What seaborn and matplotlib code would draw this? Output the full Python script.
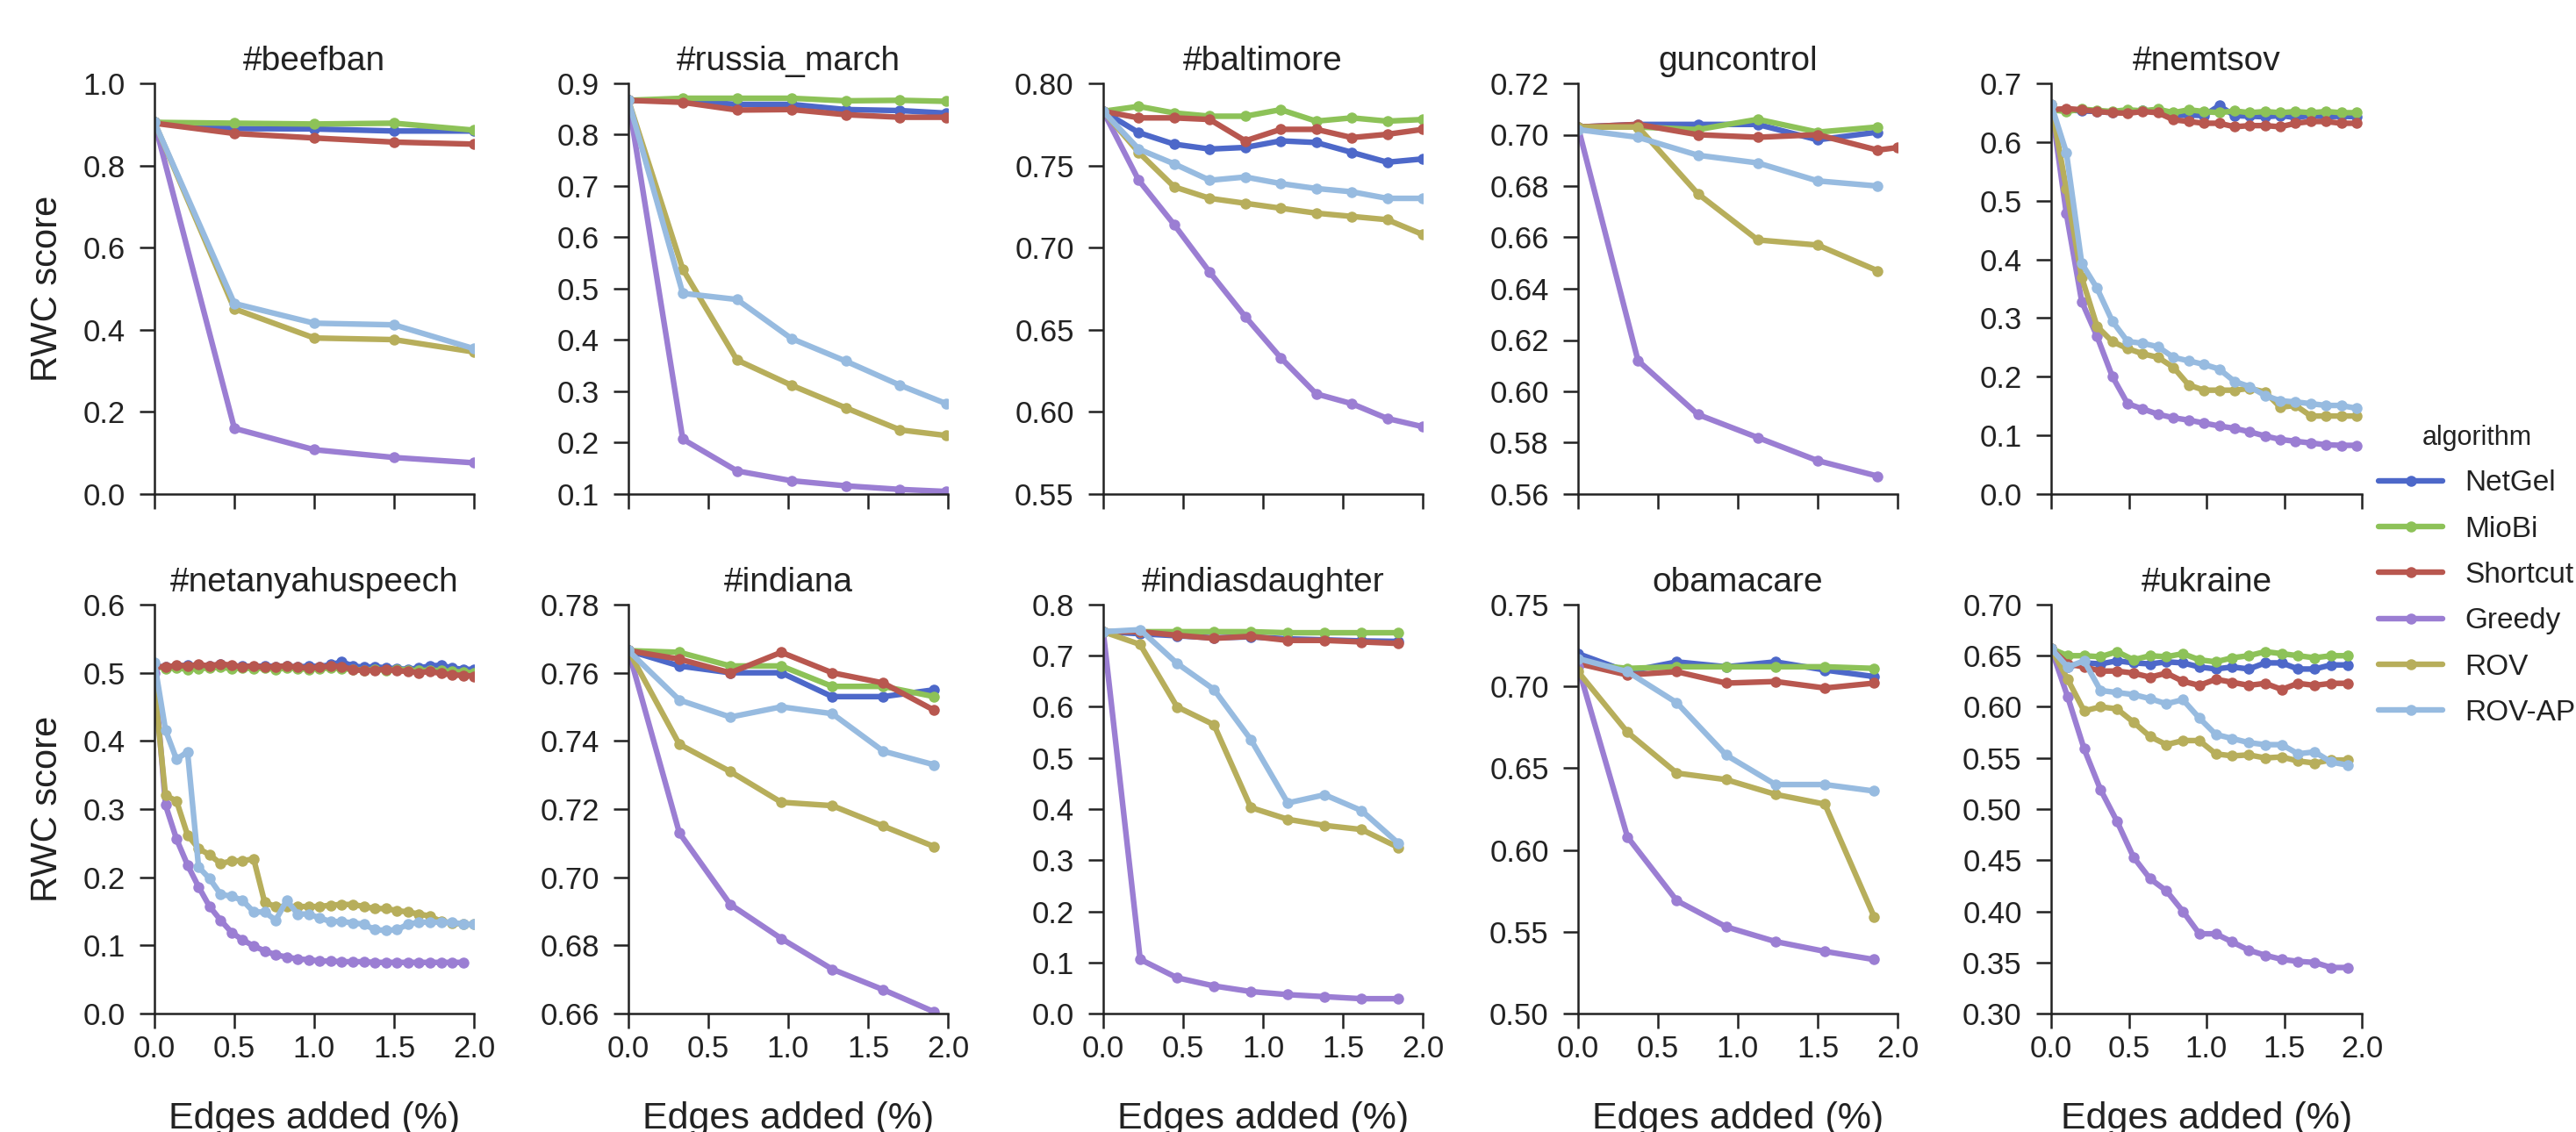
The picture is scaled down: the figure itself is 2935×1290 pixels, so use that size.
import numpy as np
import pandas as pd
import matplotlib
matplotlib.use("Agg")
import matplotlib.pyplot as plt
from matplotlib.lines import Line2D
import seaborn as sns

algorithms = ["NetGel", "MioBi", "Shortcut", "Greedy", "ROV", "ROV-AP"]
colors = ["#4d68c9", "#8dc258", "#b8574f", "#9b7ed3", "#b7ae5b", "#97bbe0"]

# ---- top row ----
beefban_x = [0, 0.5, 1.0, 1.5, 2.0]
beefban = {
    "NetGel":   [0.905, 0.890, 0.889, 0.884, 0.884],
    "MioBi":    [0.905, 0.903, 0.901, 0.903, 0.886],
    "Shortcut": [0.903, 0.878, 0.867, 0.857, 0.852],
    "Greedy":   [0.905, 0.160, 0.108, 0.089, 0.076],
    "ROV":      [0.905, 0.451, 0.380, 0.376, 0.346],
    "ROV-AP":   [0.905, 0.464, 0.416, 0.412, 0.354],
}

russia_x = [0, 0.34, 0.68, 1.02, 1.36, 1.70, 1.99]
russia = {
    "NetGel":   [0.867, 0.866, 0.859, 0.859, 0.849, 0.847, 0.842],
    "MioBi":    [0.867, 0.871, 0.871, 0.871, 0.866, 0.867, 0.865],
    "Shortcut": [0.867, 0.863, 0.848, 0.849, 0.839, 0.834, 0.834],
    "Greedy":   [0.867, 0.207, 0.145, 0.126, 0.116, 0.109, 0.105],
    "ROV":      [0.867, 0.538, 0.361, 0.312, 0.268, 0.225, 0.214],
    "ROV-AP":   [0.867, 0.491, 0.479, 0.403, 0.359, 0.312, 0.276],
}

baltimore_x = [0, 0.222, 0.444, 0.667, 0.889, 1.111, 1.333, 1.556, 1.778, 2.0]
baltimore = {
    "NetGel":   [0.783, 0.770, 0.763, 0.760, 0.761, 0.765, 0.764, 0.758, 0.752, 0.754],
    "MioBi":    [0.783, 0.786, 0.782, 0.780, 0.780, 0.784, 0.777, 0.779, 0.777, 0.778],
    "Shortcut": [0.783, 0.779, 0.779, 0.778, 0.765, 0.772, 0.772, 0.767, 0.769, 0.772],
    "Greedy":   [0.783, 0.741, 0.714, 0.685, 0.658, 0.633, 0.611, 0.605, 0.596, 0.591],
    "ROV":      [0.783, 0.758, 0.737, 0.730, 0.727, 0.724, 0.721, 0.719, 0.717, 0.708],
    "ROV-AP":   [0.783, 0.760, 0.751, 0.741, 0.743, 0.739, 0.736, 0.734, 0.730, 0.730],
}

guncontrol_x = [0, 0.375, 0.75, 1.125, 1.5, 1.875]
guncontrol_shortcut_x = [0, 0.375, 0.75, 1.125, 1.5, 1.875, 2.0]
guncontrol = {
    "NetGel":   [0.703, 0.704, 0.704, 0.704, 0.698, 0.701],
    "MioBi":    [0.703, 0.703, 0.702, 0.706, 0.701, 0.703],
    "Shortcut": [0.703, 0.704, 0.700, 0.699, 0.700, 0.694, 0.695],
    "Greedy":   [0.703, 0.612, 0.591, 0.582, 0.573, 0.567],
    "ROV":      [0.703, 0.703, 0.677, 0.659, 0.657, 0.647],
    "ROV-AP":   [0.702, 0.699, 0.692, 0.689, 0.682, 0.680],
}

nemtsov_x = [0, 0.098, 0.197, 0.295, 0.393, 0.492, 0.59, 0.688, 0.787, 0.885, 0.983,
             1.082, 1.18, 1.278, 1.377, 1.475, 1.573, 1.672, 1.77, 1.868, 1.966]
nemtsov = {
    "NetGel":   [0.655, 0.655, 0.653, 0.652, 0.650, 0.652, 0.653, 0.654, 0.645, 0.646, 0.645,
                 0.662, 0.645, 0.644, 0.643, 0.645, 0.642, 0.645, 0.643, 0.644, 0.643],
    "MioBi":    [0.655, 0.652, 0.656, 0.654, 0.652, 0.655, 0.653, 0.656, 0.650, 0.655, 0.652,
                 0.650, 0.653, 0.650, 0.652, 0.650, 0.652, 0.650, 0.652, 0.650, 0.650],
    "Shortcut": [0.655, 0.657, 0.655, 0.652, 0.650, 0.649, 0.652, 0.650, 0.638, 0.635, 0.632,
                 0.632, 0.626, 0.628, 0.628, 0.626, 0.632, 0.635, 0.635, 0.632, 0.632],
    "Greedy":   [0.664, 0.478, 0.328, 0.269, 0.201, 0.154, 0.145, 0.136, 0.130, 0.126, 0.121,
                 0.116, 0.112, 0.106, 0.099, 0.093, 0.090, 0.087, 0.084, 0.083, 0.083],
    "ROV":      [0.664, 0.520, 0.369, 0.286, 0.260, 0.248, 0.239, 0.233, 0.216, 0.186, 0.177,
                 0.177, 0.177, 0.180, 0.174, 0.148, 0.151, 0.133, 0.133, 0.133, 0.133],
    "ROV-AP":   [0.664, 0.582, 0.393, 0.351, 0.295, 0.260, 0.257, 0.251, 0.233, 0.227, 0.221,
                 0.213, 0.192, 0.183, 0.168, 0.159, 0.157, 0.154, 0.151, 0.151, 0.146],
}

# ---- bottom row ----
netanyahu_x = [0, 0.069, 0.138, 0.207, 0.276, 0.345, 0.414, 0.483, 0.552, 0.621, 0.69,
               0.759, 0.828, 0.897, 0.966, 1.035, 1.104, 1.173, 1.242, 1.311, 1.38,
               1.449, 1.518, 1.587, 1.656, 1.725, 1.794, 1.863, 1.932, 2.0]
netanyahu_greedy_x = netanyahu_x[:29]
netanyahu = {
    "NetGel":   [0.510, 0.508, 0.510, 0.511, 0.509, 0.510, 0.512, 0.508, 0.510, 0.509, 0.510,
                 0.509, 0.510, 0.508, 0.510, 0.509, 0.512, 0.516, 0.510, 0.508, 0.509,
                 0.507, 0.506, 0.505, 0.507, 0.510, 0.511, 0.507, 0.505, 0.505],
    "MioBi":    [0.510, 0.506, 0.507, 0.505, 0.506, 0.507, 0.508, 0.506, 0.507, 0.506, 0.507,
                 0.505, 0.507, 0.506, 0.505, 0.506, 0.507, 0.506, 0.505, 0.504, 0.505,
                 0.504, 0.505, 0.504, 0.503, 0.504, 0.503, 0.502, 0.501, 0.500],
    "Shortcut": [0.510, 0.508, 0.511, 0.510, 0.512, 0.510, 0.513, 0.511, 0.509, 0.510, 0.508,
                 0.509, 0.510, 0.508, 0.507, 0.508, 0.510, 0.509, 0.505, 0.503, 0.504,
                 0.505, 0.503, 0.502, 0.500, 0.502, 0.499, 0.497, 0.496, 0.495],
    "Greedy":   [0.500, 0.306, 0.256, 0.218, 0.186, 0.157, 0.137, 0.119, 0.108, 0.099, 0.092,
                 0.086, 0.083, 0.080, 0.079, 0.077, 0.077, 0.076, 0.076, 0.076, 0.075,
                 0.075, 0.075, 0.075, 0.075, 0.075, 0.075, 0.075, 0.075],
    "ROV":      [0.480, 0.320, 0.312, 0.262, 0.242, 0.233, 0.220, 0.224, 0.224, 0.227, 0.163,
                 0.157, 0.157, 0.157, 0.157, 0.157, 0.159, 0.160, 0.160, 0.157, 0.154,
                 0.154, 0.151, 0.149, 0.146, 0.143, 0.135, 0.133, 0.131, 0.131],
    "ROV-AP":   [0.515, 0.416, 0.373, 0.384, 0.215, 0.198, 0.175, 0.172, 0.166, 0.149, 0.149,
                 0.137, 0.166, 0.146, 0.146, 0.140, 0.135, 0.135, 0.133, 0.131, 0.123,
                 0.122, 0.123, 0.131, 0.134, 0.134, 0.134, 0.134, 0.131, 0.131],
}

indiana_x = [0, 0.319, 0.638, 0.957, 1.276, 1.595, 1.914]
indiana = {
    "NetGel":   [0.7665, 0.762, 0.760, 0.760, 0.753, 0.753, 0.755],
    "MioBi":    [0.7665, 0.766, 0.762, 0.762, 0.756, 0.756, 0.753],
    "Shortcut": [0.7665, 0.764, 0.760, 0.766, 0.760, 0.757, 0.749],
    "Greedy":   [0.7665, 0.713, 0.692, 0.682, 0.673, 0.667, 0.6605],
    "ROV":      [0.7665, 0.739, 0.731, 0.722, 0.721, 0.715, 0.709],
    "ROV-AP":   [0.7665, 0.752, 0.747, 0.750, 0.748, 0.737, 0.733],
}

indiasdaughter_x = [0, 0.231, 0.462, 0.693, 0.924, 1.155, 1.386, 1.617, 1.848]
indiasdaughter = {
    "NetGel":   [0.747, 0.743, 0.739, 0.735, 0.737, 0.733, 0.731, 0.729, 0.728],
    "MioBi":    [0.747, 0.747, 0.747, 0.747, 0.747, 0.745, 0.745, 0.745, 0.745],
    "Shortcut": [0.747, 0.747, 0.740, 0.734, 0.738, 0.730, 0.730, 0.727, 0.724],
    "Greedy":   [0.747, 0.106, 0.070, 0.054, 0.043, 0.037, 0.033, 0.029, 0.029],
    "ROV":      [0.747, 0.722, 0.600, 0.565, 0.403, 0.380, 0.368, 0.360, 0.325],
    "ROV-AP":   [0.747, 0.751, 0.685, 0.634, 0.536, 0.412, 0.428, 0.397, 0.333],
}

obamacare_x = [0, 0.309, 0.618, 0.927, 1.236, 1.545, 1.854]
obamacare = {
    "NetGel":   [0.720, 0.709, 0.715, 0.712, 0.715, 0.710, 0.706],
    "MioBi":    [0.714, 0.711, 0.712, 0.712, 0.712, 0.712, 0.711],
    "Shortcut": [0.714, 0.707, 0.709, 0.702, 0.703, 0.699, 0.702],
    "Greedy":   [0.712, 0.608, 0.569, 0.553, 0.544, 0.538, 0.533],
    "ROV":      [0.709, 0.672, 0.647, 0.643, 0.634, 0.628, 0.559],
    "ROV-AP":   [0.717, 0.709, 0.690, 0.658, 0.640, 0.640, 0.636],
}

ukraine_x = [0, 0.106, 0.212, 0.318, 0.424, 0.53, 0.636, 0.742, 0.848, 0.954,
             1.06, 1.166, 1.272, 1.378, 1.484, 1.59, 1.696, 1.802, 1.908]
ukraine = {
    "NetGel":   [0.657, 0.639, 0.643, 0.642, 0.645, 0.643, 0.642, 0.644, 0.643, 0.639,
                 0.637, 0.639, 0.637, 0.643, 0.643, 0.637, 0.637, 0.641, 0.641],
    "MioBi":    [0.657, 0.650, 0.650, 0.649, 0.654, 0.646, 0.650, 0.649, 0.652, 0.646,
                 0.644, 0.648, 0.650, 0.654, 0.652, 0.650, 0.648, 0.650, 0.650],
    "Shortcut": [0.657, 0.642, 0.639, 0.635, 0.635, 0.633, 0.629, 0.633, 0.625, 0.621,
                 0.627, 0.624, 0.621, 0.623, 0.617, 0.623, 0.621, 0.623, 0.623],
    "Greedy":   [0.657, 0.610, 0.559, 0.519, 0.488, 0.453, 0.432, 0.420, 0.400, 0.378,
                 0.378, 0.370, 0.362, 0.357, 0.353, 0.351, 0.350, 0.345, 0.345],
    "ROV":      [0.657, 0.627, 0.596, 0.600, 0.598, 0.585, 0.571, 0.563, 0.567, 0.567,
                 0.554, 0.552, 0.553, 0.550, 0.551, 0.547, 0.545, 0.548, 0.548],
    "ROV-AP":   [0.657, 0.639, 0.645, 0.616, 0.614, 0.612, 0.608, 0.603, 0.607, 0.589,
                 0.573, 0.569, 0.565, 0.563, 0.563, 0.554, 0.556, 0.546, 0.543],
}

# title, x, values, x overrides, y limits, number of y ticks
panels = [
    ("#beefban", beefban_x, beefban, {}, (0.0, 1.0), 6),
    ("#russia_march", russia_x, russia, {}, (0.1, 0.9), 9),
    ("#baltimore", baltimore_x, baltimore, {}, (0.55, 0.80), 6),
    ("guncontrol", guncontrol_x, guncontrol, {"Shortcut": guncontrol_shortcut_x}, (0.56, 0.72), 9),
    ("#nemtsov", nemtsov_x, nemtsov, {}, (0.0, 0.7), 8),
    ("#netanyahuspeech", netanyahu_x, netanyahu, {"Greedy": netanyahu_greedy_x}, (0.0, 0.6), 7),
    ("#indiana", indiana_x, indiana, {}, (0.66, 0.78), 7),
    ("#indiasdaughter", indiasdaughter_x, indiasdaughter, {}, (0.0, 0.8), 9),
    ("obamacare", obamacare_x, obamacare, {}, (0.50, 0.75), 6),
    ("#ukraine", ukraine_x, ukraine, {}, (0.30, 0.70), 9),
]

sns.set_theme(style="ticks")
plt.rcParams["font.family"] = ["Liberation Sans", "DejaVu Sans"]
for k in ["axes.edgecolor", "xtick.color", "ytick.color", "text.color", "axes.labelcolor"]:
    plt.rcParams[k] = "#222222"

W, H = 2935, 1290
fig = plt.figure(figsize=(W / 100, H / 100), dpi=100)

lefts = [176, 716, 1257, 1798, 2337]
widths = [364, 364, 364, 364, 354]
rows = [(95, 563), (689, 1155)]

palette = dict(zip(algorithms, colors))
LW, MS = 4.6, 9

for i, (title, xs, vals, overrides, ylim, nt) in enumerate(panels):
    r, c = divmod(i, 5)
    top, bot = rows[r]
    ax = fig.add_axes([lefts[c] / W, 1 - bot / H, widths[c] / W, (bot - top) / H])

    recs = []
    for alg in algorithms:
        xa = overrides.get(alg, xs)
        for xv, yv in zip(xa, vals[alg]):
            recs.append((alg, xv, yv))
    df = pd.DataFrame(recs, columns=["algorithm", "edges", "rwc"])

    sns.lineplot(data=df, x="edges", y="rwc", hue="algorithm", hue_order=algorithms,
                 palette=palette, marker="o", markersize=MS, markeredgewidth=0,
                 linewidth=LW, errorbar=None, legend=False, ax=ax)

    ax.set_xlim(0, 2.0)
    ax.set_ylim(*ylim)
    ax.set_xticks([0, 0.5, 1.0, 1.5, 2.0])
    ax.set_yticks(np.linspace(ylim[0], ylim[1], nt))
    ax.tick_params(length=12, width=1.8, labelsize=25)
    ax.tick_params(axis="y", pad=12)
    ax.tick_params(axis="x", pad=5)
    for s in ax.spines.values():
        s.set_linewidth(1.8)
    sns.despine(ax=ax)
    ax.set_title(title, fontsize=28, pad=11)

    if r == 0:
        ax.set_xticklabels([])
        ax.set_xlabel("")
    else:
        ax.set_xticklabels(["0.0", "0.5", "1.0", "1.5", "2.0"])
        ax.set_xlabel("Edges added (%)", fontsize=31)
        ax.xaxis.set_label_coords(0.5, -0.215)
    if c == 0:
        ax.set_ylabel("RWC score", fontsize=30)
        ax.yaxis.set_label_coords(-0.28, 0.5)
    else:
        ax.set_ylabel("")

handles = [Line2D([], [], color=col, marker="o", markersize=MS, markeredgewidth=0, linewidth=LW)
           for col in colors]
fig.legend(handles, algorithms, title="algorithm", loc="upper left",
           bbox_to_anchor=(2710 / W, 1 - 484 / H), frameon=False, fontsize=24,
           title_fontsize=22, handlelength=2.2, handletextpad=0.75, labelspacing=0.64,
           borderpad=0, borderaxespad=0)

fig.savefig("out.png", dpi=100)
